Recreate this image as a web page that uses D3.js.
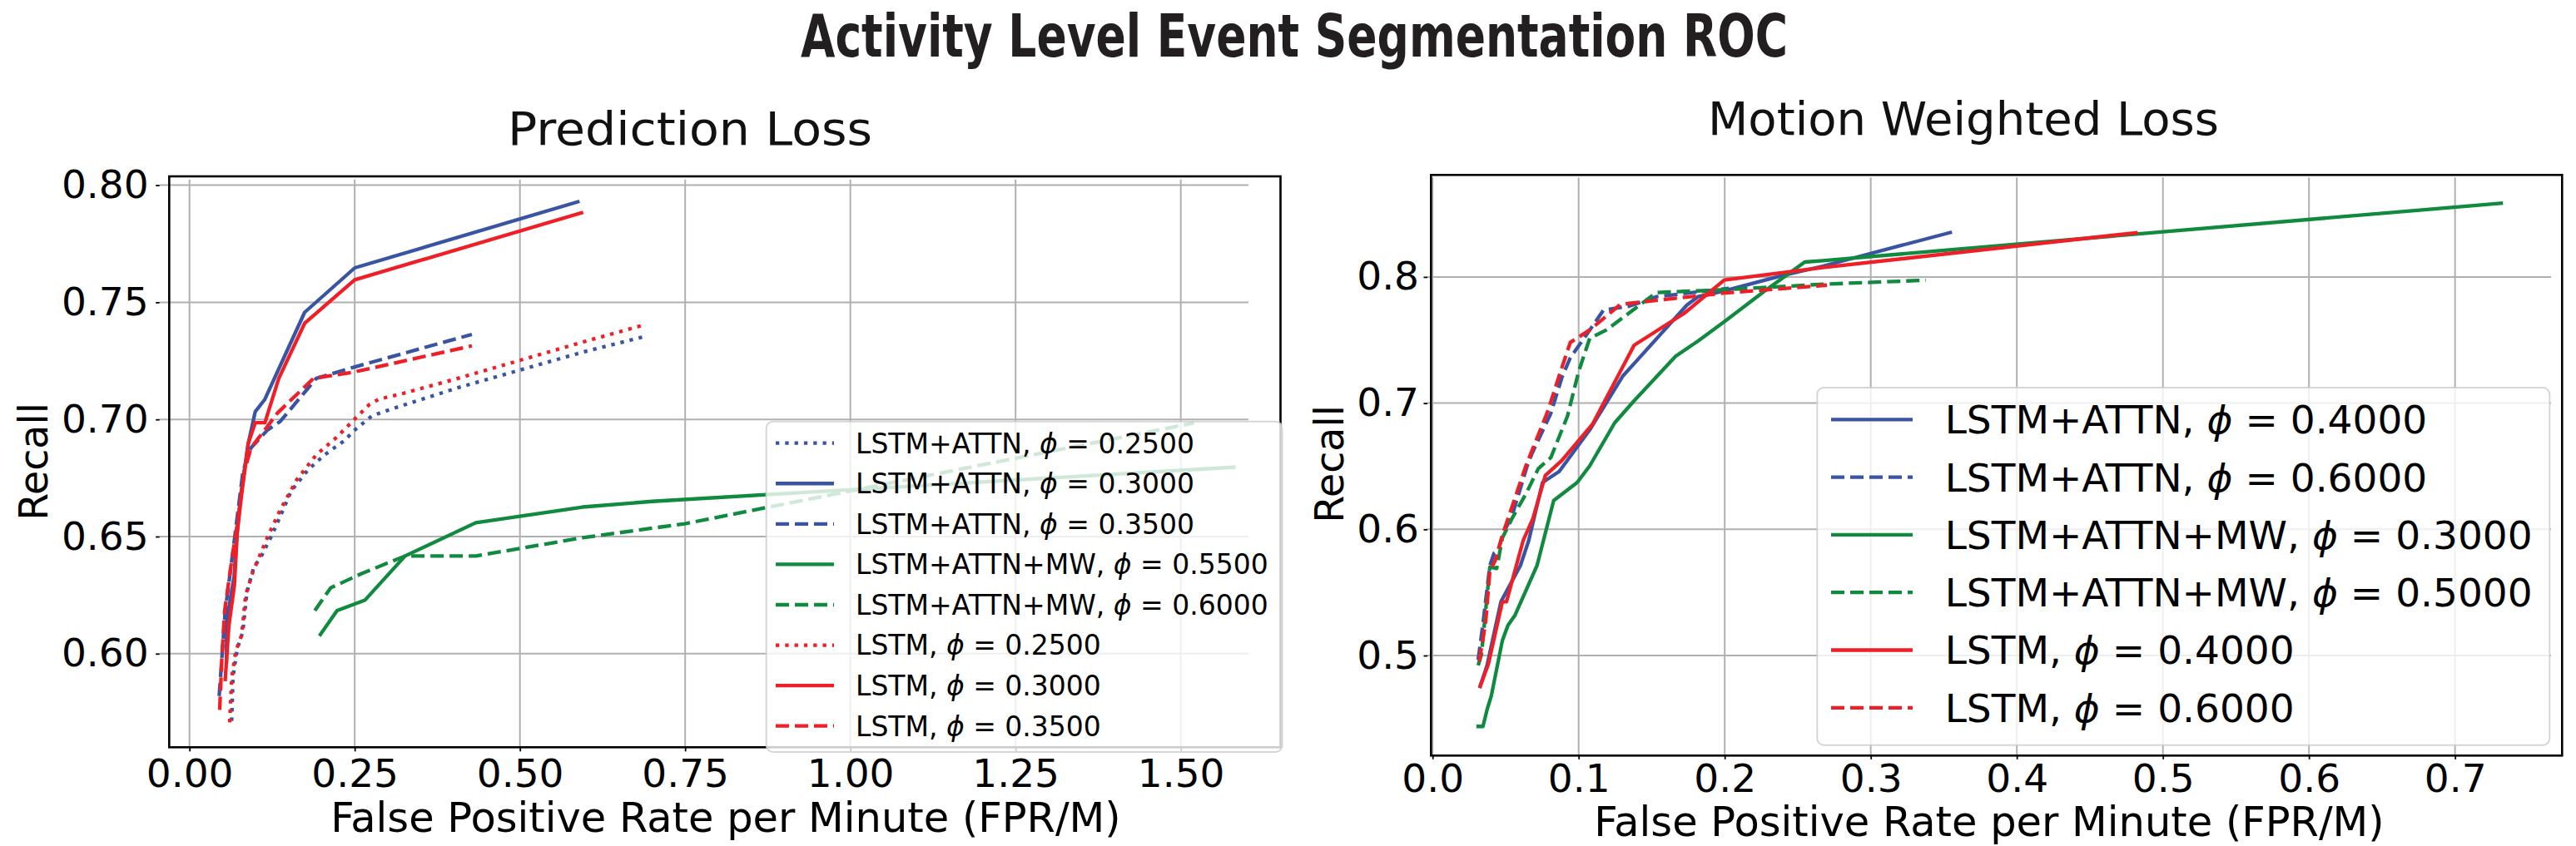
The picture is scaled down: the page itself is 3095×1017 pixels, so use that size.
<!DOCTYPE html>
<html>
<head>
<meta charset="utf-8">
<script src="https://cdn.jsdelivr.net/npm/d3@7"></script>
<style>
html, body { margin: 0; padding: 0; background: #ffffff; }
svg { display: block; font-family: "DejaVu Sans", sans-serif; }
</style>
</head>
<body>
<svg id="chart" width="3095" height="1017"></svg>
<script>
// ------------------------- DATA -------------------------
const titleText = "Activity Level Event Segmentation ROC";
const panelTitles = ["Prediction Loss", "Motion Weighted Loss"];
const xLabelText = "False Positive Rate per Minute (FPR/M)";
const yLabelText = "Recall";

// Prediction Loss panel ticks
const predXTicks = [0.00, 0.25, 0.50, 0.75, 1.00, 1.25, 1.50];
const predYTicks = [0.60, 0.65, 0.70, 0.75, 0.80];
// Motion Weighted Loss panel ticks
const mwXTicks = [0.0, 0.1, 0.2, 0.3, 0.4, 0.5, 0.6, 0.7];
const mwYTicks = [0.5, 0.6, 0.7, 0.8];

// legend labels
const predModels = ["LSTM+ATTN", "LSTM+ATTN", "LSTM+ATTN", "LSTM+ATTN+MW", "LSTM+ATTN+MW", "LSTM", "LSTM", "LSTM"];
const predPhis   = ["0.2500", "0.3000", "0.3500", "0.5500", "0.6000", "0.2500", "0.3000", "0.3500"];
const mwModels   = ["LSTM+ATTN", "LSTM+ATTN", "LSTM+ATTN+MW", "LSTM+ATTN+MW", "LSTM", "LSTM"];
const mwPhis     = ["0.4000", "0.6000", "0.3000", "0.5000", "0.4000", "0.6000"];

// ---- Prediction Loss series: [FPR/M, Recall] ----
const pred_attn_025 = [[0.0638,0.5713],[0.0659,0.5902],[0.0722,0.6021],[0.0806,0.6092],[0.0869,0.6263],[0.0974,0.6370],[0.1078,0.6411],[0.1247,0.6506],[0.1414,0.6613],[0.1540,0.6695],[0.1792,0.6784],[0.2044,0.6849],[0.2338,0.6908],[0.2506,0.6956],[0.2758,0.7015],[0.3052,0.7044],[0.4059,0.7135],[0.5948,0.7287],[0.6900,0.7355]];
const pred_attn_030 = [[0.0560,0.5970],[0.0562,0.6138],[0.0675,0.6328],[0.0722,0.6518],[0.0776,0.6677],[0.0889,0.6897],[0.0995,0.7033],[0.1141,0.7086],[0.1742,0.7457],[0.2501,0.7647],[0.5876,0.7929]];
const pred_attn_035 = [[0.0449,0.5819],[0.0540,0.6180],[0.0650,0.6420],[0.0730,0.6600],[0.0810,0.6780],[0.0932,0.6879],[0.1180,0.6955],[0.1372,0.6991],[0.1918,0.7175],[0.2500,0.7224],[0.4273,0.7363]];
const pred_mw_055   = [[0.1981,0.6082],[0.2233,0.6184],[0.2653,0.6228],[0.3262,0.6417],[0.4332,0.6559],[0.5948,0.6626],[0.7000,0.6650],[1.5803,0.6796]];
const pred_mw_060   = [[0.1897,0.6184],[0.2136,0.6281],[0.2590,0.6340],[0.3262,0.6417],[0.4332,0.6417],[0.5948,0.6495],[0.7500,0.6555],[1.5200,0.6985]];
const pred_lstm_025 = [[0.0608,0.5707],[0.0640,0.5900],[0.0700,0.6010],[0.0790,0.6080],[0.0850,0.6250],[0.0960,0.6350],[0.1184,0.6500],[0.1372,0.6613],[0.1624,0.6743],[0.1918,0.6849],[0.2212,0.6920],[0.2506,0.7003],[0.2715,0.7062],[0.2863,0.7086],[0.3220,0.7110],[0.4059,0.7175],[0.5948,0.7330],[0.6900,0.7405]];
const pred_lstm_030 = [[0.0541,0.5890],[0.0596,0.6120],[0.0680,0.6293],[0.0722,0.6518],[0.0787,0.6677],[0.0889,0.6897],[0.0995,0.6986],[0.1141,0.6986],[0.1351,0.7175],[0.1742,0.7410],[0.2500,0.7596],[0.5932,0.7882]];
const pred_lstm_035 = [[0.0457,0.5760],[0.0490,0.5985],[0.0533,0.6185],[0.0640,0.6400],[0.0730,0.6566],[0.0830,0.6780],[0.0932,0.6879],[0.1141,0.6956],[0.1330,0.7027],[0.1877,0.7175],[0.2500,0.7203],[0.4273,0.7314]];

// ---- Motion Weighted Loss series: [FPR/M, Recall] ----
const mw_attn_040 = [[0.0326,0.4756],[0.0373,0.4921],[0.0468,0.5426],[0.0601,0.5712],[0.0658,0.5910],[0.0753,0.6371],[0.0867,0.6459],[0.1076,0.6788],[0.1304,0.7217],[0.1399,0.7338],[0.1741,0.7777],[0.1817,0.7843],[0.1987,0.7887],[0.2386,0.8008],[0.2671,0.8085],[0.3544,0.8352]];
const mw_attn_060 = [[0.0312,0.4965],[0.0345,0.5250],[0.0392,0.5712],[0.0421,0.5811],[0.0449,0.5833],[0.0487,0.5976],[0.0544,0.6107],[0.0648,0.6503],[0.0677,0.6591],[0.0810,0.6920],[0.0886,0.7206],[0.0943,0.7360],[0.1057,0.7547],[0.1171,0.7738],[0.1342,0.7767],[0.1532,0.7843],[0.2030,0.7910]];
const mw_mw_030   = [[0.0312,0.4438],[0.0345,0.4438],[0.0373,0.4570],[0.0402,0.4679],[0.0478,0.5119],[0.0516,0.5239],[0.0563,0.5316],[0.0715,0.5712],[0.0829,0.6228],[0.0990,0.6371],[0.1076,0.6503],[0.1247,0.6844],[0.1380,0.7019],[0.1664,0.7371],[0.1817,0.7492],[0.1997,0.7645],[0.2272,0.7887],[0.2548,0.8118],[0.2671,0.8129],[0.7316,0.8584]];
const mw_mw_050   = [[0.0312,0.4921],[0.0335,0.5009],[0.0392,0.5701],[0.0439,0.5690],[0.0478,0.5932],[0.0544,0.6086],[0.0640,0.6283],[0.0724,0.6481],[0.0810,0.6569],[0.0924,0.6899],[0.1000,0.7250],[0.1076,0.7514],[0.1190,0.7580],[0.1342,0.7711],[0.1532,0.7876],[0.1987,0.7898],[0.2671,0.7942],[0.3377,0.7974]];
const mw_lstm_040 = [[0.0326,0.4756],[0.0382,0.4932],[0.0478,0.5426],[0.0506,0.5426],[0.0620,0.5910],[0.0687,0.6086],[0.0772,0.6426],[0.0886,0.6547],[0.1095,0.6833],[0.1380,0.7459],[0.1722,0.7711],[0.1997,0.7975],[0.2671,0.8074],[0.4816,0.8350]];
const mw_lstm_060 = [[0.0320,0.4954],[0.0364,0.5272],[0.0392,0.5668],[0.0430,0.5756],[0.0478,0.5954],[0.0639,0.6503],[0.0677,0.6613],[0.0791,0.6943],[0.0876,0.7250],[0.0943,0.7481],[0.1076,0.7580],[0.1190,0.7690],[0.1285,0.7782],[0.1456,0.7804],[0.1987,0.7871],[0.2700,0.7935]];

// ------------------------- STYLE -------------------------
const BLUE = "#3a54a4", GREEN = "#0f8a3e", RED = "#ee1f26";
const DOT = "4.3,7", DASH = "16,7", SOLID = null;
const LW = 4.3;
const FONT = "'DejaVu Sans', sans-serif";

const predColors = [BLUE, BLUE, BLUE, GREEN, GREEN, RED, RED, RED];
const predDashes = [DOT, SOLID, DASH, SOLID, DASH, DOT, SOLID, DASH];
const predData   = [pred_attn_025, pred_attn_030, pred_attn_035, pred_mw_055, pred_mw_060, pred_lstm_025, pred_lstm_030, pred_lstm_035];
const mwColors   = [BLUE, BLUE, GREEN, GREEN, RED, RED];
const mwDashes   = [SOLID, DASH, SOLID, DASH, SOLID, DASH];
const mwData     = [mw_attn_040, mw_attn_060, mw_mw_030, mw_mw_050, mw_lstm_040, mw_lstm_060];

const svg = d3.select("#chart");

// ------------------------- TITLE -------------------------
svg.append("text")
  .attr("x", 1555).attr("y", 68)
  .attr("text-anchor", "middle")
  .attr("font-family", FONT).attr("font-weight", "bold").attr("font-size", 72)
  .attr("fill", "#231f20")
  .attr("textLength", 1186).attr("lengthAdjust", "spacingAndGlyphs")
  .text(titleText);

// ------------------------- PANELS -------------------------
const panels = [
  {
    title: panelTitles[0], titleX: 829, titleY: 174, titleLen: 438,
    left: 203.3, right: 1538.5, top: 212, bottom: 898.3,
    xDomain: [-0.0307, 1.6509], yDomain: [0.56005, 0.80376],
    xTicks: predXTicks, yTicks: predYTicks, fmt: ".2f",
    gridLeft: 191.7, gridRight: 1500, gridTop: 215.7,
    yAxisX: 191.7, yTickLen: 4.5, yPad: 8.6, xTickLen: 5, xPad: 9.3, tickFont: 47,
    xLabelX: 872, xLabelY: 1000, yLabelX: 57, yLabelY: 555,
    data: predData, colors: predColors, dashes: predDashes, models: predModels, phis: predPhis,
    leg: { x: 920.7, y: 506.7, w: 619.8, h: 397.3, font: 33, rowY0: 532.7, rowDy: 48.57, hx1: 932, hx2: 1002, tx: 1028 }
  },
  {
    title: panelTitles[1], titleX: 2359, titleY: 162, titleLen: 614,
    left: 1719.3, right: 3078.3, top: 210.3, bottom: 908.3,
    xDomain: [-0.00108, 0.7733], yDomain: [0.42070, 0.88082],
    xTicks: mwXTicks, yTicks: mwYTicks, fmt: ".1f",
    gridLeft: 1715, gridRight: 3065, gridTop: 213.3,
    yAxisX: 1715, yTickLen: 4.5, yPad: 5.5, xTickLen: 4.5, xPad: 5.5, tickFont: 47,
    xLabelX: 2390, xLabelY: 1005, yLabelX: 1614, yLabelY: 558,
    data: mwData, colors: mwColors, dashes: mwDashes, models: mwModels, phis: mwPhis,
    leg: { x: 2183.3, y: 466, w: 880, h: 429.7, font: 47, rowY0: 504.3, rowDy: 69.3, hx1: 2200, hx2: 2298, tx: 2336.7 }
  }
];

panels.forEach(p => {
  const x = d3.scaleLinear().domain(p.xDomain).range([p.left, p.right]);
  const y = d3.scaleLinear().domain(p.yDomain).range([p.bottom, p.top]);
  const g = svg.append("g");

  // subplot title
  g.append("text")
    .attr("x", p.titleX).attr("y", p.titleY)
    .attr("text-anchor", "middle")
    .attr("font-family", FONT).attr("font-size", 56).attr("fill", "#111")
    .attr("textLength", p.titleLen).attr("lengthAdjust", "spacingAndGlyphs")
    .text(p.title);

  // grid
  const grid = g.append("g").attr("stroke", "#b0b0b0").attr("stroke-width", 2);
  grid.selectAll("line.v").data(p.xTicks).join("line").attr("class", "v")
    .attr("x1", d => x(d)).attr("x2", d => x(d))
    .attr("y1", p.gridTop).attr("y2", p.bottom);
  grid.selectAll("line.h").data(p.yTicks).join("line").attr("class", "h")
    .attr("x1", p.gridLeft).attr("x2", p.gridRight)
    .attr("y1", d => y(d)).attr("y2", d => y(d));

  // x axis
  const xAxis = d3.axisBottom(x).tickValues(p.xTicks).tickFormat(d3.format(p.fmt))
    .tickSizeInner(p.xTickLen).tickSizeOuter(0).tickPadding(p.xPad);
  const gx = g.append("g").attr("transform", `translate(0,${p.bottom})`).call(xAxis);
  gx.attr("font-size", null).attr("font-family", null);
  gx.select(".domain").remove();
  gx.selectAll(".tick line").attr("stroke", "#000").attr("stroke-width", 1.8);
  gx.selectAll(".tick text").attr("font-family", FONT).attr("font-size", p.tickFont).attr("fill", "#000");

  // y axis
  const yAxis = d3.axisLeft(y).tickValues(p.yTicks).tickFormat(d3.format(p.fmt))
    .tickSizeInner(p.yTickLen).tickSizeOuter(0).tickPadding(p.yPad);
  const gy = g.append("g").attr("transform", `translate(${p.yAxisX},0)`).call(yAxis);
  gy.attr("font-size", null).attr("font-family", null);
  gy.select(".domain").remove();
  gy.selectAll(".tick line").attr("stroke", "#000").attr("stroke-width", 1.8);
  gy.selectAll(".tick text").attr("font-family", FONT).attr("font-size", p.tickFont).attr("fill", "#000");

  // axis labels
  g.append("text")
    .attr("x", p.xLabelX).attr("y", p.xLabelY)
    .attr("text-anchor", "middle")
    .attr("font-family", FONT).attr("font-size", 49.5).attr("fill", "#000")
    .text(xLabelText);
  g.append("text")
    .attr("transform", `translate(${p.yLabelX},${p.yLabelY}) rotate(-90)`)
    .attr("text-anchor", "middle")
    .attr("font-family", FONT).attr("font-size", 47.5).attr("fill", "#000")
    .text(yLabelText);

  // series lines
  const line = d3.line().x(d => x(d[0])).y(d => y(d[1]));
  g.append("g").selectAll("path").data(p.data).join("path")
    .attr("d", d => line(d))
    .attr("fill", "none")
    .attr("stroke", (d, i) => p.colors[i])
    .attr("stroke-width", LW)
    .attr("stroke-dasharray", (d, i) => p.dashes[i])
    .attr("stroke-linejoin", "round")
    .attr("stroke-linecap", (d, i) => p.dashes[i] ? "butt" : "square");

  // spines
  g.append("rect")
    .attr("x", p.left).attr("y", p.top)
    .attr("width", p.right - p.left).attr("height", p.bottom - p.top)
    .attr("fill", "none").attr("stroke", "#000").attr("stroke-width", 2.6);

  // legend
  const L = p.leg;
  const lg = g.append("g");
  lg.append("rect")
    .attr("x", L.x).attr("y", L.y).attr("width", L.w).attr("height", L.h)
    .attr("rx", 8).attr("ry", 8)
    .attr("fill", "#ffffff").attr("fill-opacity", 0.8)
    .attr("stroke", "#cccccc").attr("stroke-opacity", 0.8).attr("stroke-width", 2);
  const rows = lg.selectAll("g.row").data(p.models).join("g").attr("class", "row")
    .attr("transform", (d, i) => `translate(0,${L.rowY0 + i * L.rowDy})`);
  rows.append("line")
    .attr("x1", L.hx1).attr("x2", L.hx2).attr("y1", 0).attr("y2", 0)
    .attr("stroke", (d, i) => p.colors[i])
    .attr("stroke-width", LW)
    .attr("stroke-dasharray", (d, i) => p.dashes[i])
    .attr("stroke-linecap", "butt");
  const t = rows.append("text")
    .attr("x", L.tx).attr("y", L.font * 0.36)
    .attr("font-family", FONT).attr("font-size", L.font).attr("fill", "#000");
  t.append("tspan").text(d => d + ", ");
  t.append("tspan").attr("font-style", "italic").text("\u03D5");
  t.append("tspan").text((d, i) => " = " + p.phis[i]);
});
</script>
</body>
</html>
